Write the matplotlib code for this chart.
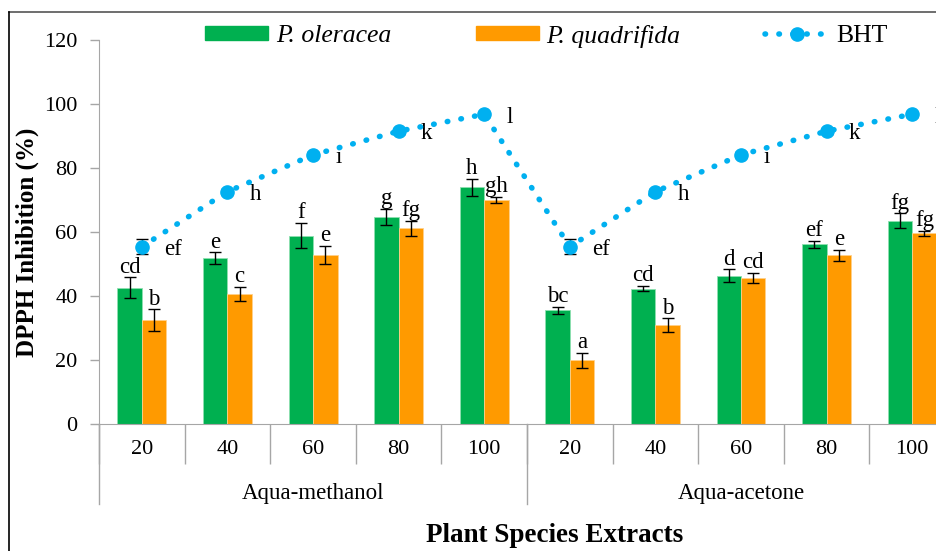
"""DPPH inhibition of two Portulaca extracts vs. BHT, grouped bars + dotted line.

Output: out.png
"""

from __future__ import annotations

import matplotlib

matplotlib.use("Agg")
import matplotlib.pyplot as plt
import numpy as np
from matplotlib.lines import Line2D
from matplotlib.transforms import blended_transform_factory

# --------------------------------------------------------------------------
# data
# --------------------------------------------------------------------------
concentrations = ["20", "40", "60", "80", "100", "20", "40", "60", "80", "100"]
solvents = ["Aqua-methanol", "Aqua-acetone"]

oleracea = [42.6, 51.8, 58.9, 64.6, 74.0, 35.5, 42.3, 46.4, 56.1, 63.5]
oleracea_err = [3.2, 1.8, 3.8, 2.5, 2.6, 1.1, 0.8, 1.9, 1.1, 2.3]
oleracea_letters = ["cd", "e", "f", "g", "h", "bc", "cd", "d", "ef", "fg"]

quadrifida = [32.5, 40.6, 52.8, 61.2, 70.0, 19.9, 30.8, 45.6, 52.7, 59.6]
quadrifida_err = [3.3, 2.3, 2.9, 2.3, 0.9, 2.4, 2.2, 1.6, 1.7, 0.8]
quadrifida_letters = ["b", "c", "e", "fg", "gh", "a", "b", "cd", "e", "fg"]

bht = [55.4, 72.6, 84.1, 91.5, 96.8, 55.4, 72.6, 84.1, 91.5, 96.8]
bht_err = [2.4, 0.8, 0.8, 0.8, 0.8, 2.4, 0.8, 0.8, 0.8, 0.8]
bht_letters = ["ef", "h", "i", "k", "l", "ef", "h", "i", "k", "l"]

GREEN = "#00B050"
ORANGE = "#FF9A00"
BLUE = "#00B0F0"
GRAY = "#A6A6A6"
SERIF = "Liberation Serif"


def main() -> None:
    plt.rcParams["font.family"] = SERIF
    fig = plt.figure(figsize=(9.36, 5.51), dpi=100)
    # plot area runs a bit past the right edge, like the cropped original
    ax = fig.add_axes([0.1058, 0.2305, 0.9145, 0.6969])

    n = len(concentrations)
    centers = np.arange(n) + 0.5
    w = 0.286

    ax.bar(centers - w / 2, oleracea, w, color=GREEN, edgecolor="#8ee0b0",
           linewidth=0.6, yerr=oleracea_err, capsize=4.5,
           error_kw=dict(elinewidth=1, capthick=1, ecolor="black"), zorder=2)
    ax.bar(centers + w / 2, quadrifida, w, color=ORANGE, edgecolor="#ffd08a",
           linewidth=0.6, yerr=quadrifida_err, capsize=4.5,
           error_kw=dict(elinewidth=1, capthick=1, ecolor="black"), zorder=2)

    ax.errorbar(centers, bht, yerr=bht_err, fmt="none", ecolor="black",
                elinewidth=1, capsize=4.5, zorder=3)
    ax.plot(centers, bht, color=BLUE, linewidth=4, linestyle=(0, (0.1, 2.4)),
            dash_capstyle="round", marker="o", markersize=9.5, zorder=4)

    # significance letters
    for x, v, e, t in zip(centers - w / 2, oleracea, oleracea_err, oleracea_letters):
        ax.annotate(t, (x, v + e), xytext=(0, 3.5), textcoords="offset points",
                    ha="center", va="baseline", fontsize=16.5, zorder=5)
    for x, v, e, t in zip(centers + w / 2, quadrifida, quadrifida_err, quadrifida_letters):
        ax.annotate(t, (x, v + e), xytext=(0, 3.5), textcoords="offset points",
                    ha="center", va="baseline", fontsize=16.5, zorder=5)
    for x, v, t in zip(centers, bht, bht_letters):
        ax.annotate(t, (x, v), xytext=(16, -2), textcoords="offset points",
                    ha="left", va="center", fontsize=16.5, annotation_clip=False)

    # axes cosmetics
    ax.set_xlim(0, n)
    ax.set_ylim(0, 120)
    ax.set_yticks(np.arange(0, 121, 20))
    ax.tick_params(axis="y", direction="out", length=6.5, width=1, color=GRAY,
                   pad=9, labelsize=16)
    for side in ("top", "right"):
        ax.spines[side].set_visible(False)
    ax.spines["left"].set_color(GRAY)
    ax.spines["bottom"].set_color(GRAY)

    # category ticks (separators) + labels between them
    ax.set_xticks(np.arange(n + 1))
    ax.set_xticklabels([])
    ax.tick_params(axis="x", which="major", direction="out", length=29,
                   width=1, color=GRAY)
    ax.set_xticks(centers, concentrations, minor=True)
    ax.tick_params(axis="x", which="minor", length=0, pad=11.5, labelsize=16)

    # second level: solvent groups
    trans = blended_transform_factory(ax.transData, ax.transAxes)
    for xs in (0, n // 2, n):
        ax.plot([xs, xs], [0, -0.208], transform=trans, color=GRAY,
                linewidth=1, clip_on=False)
    for i, name in enumerate(solvents):
        ax.text(n / 4 + i * n / 2, -0.18, name, transform=trans,
                ha="center", va="center", fontsize=16.5)

    fig.text(555 / 936, 1 - 535 / 551, "Plant Species Extracts", ha="center",
             va="center", fontsize=19.5, fontweight="bold")
    fig.text(27.5 / 936, 1 - 242 / 551, "DPPH Inhibition (%)", ha="center",
             va="center", rotation=90, fontsize=18, fontweight="bold")

    # legend across the top
    handles = [
        plt.Rectangle((0, 0), 1, 1, color=GREEN),
        plt.Rectangle((0, 0), 1, 1, color=ORANGE),
        Line2D([], [], color=BLUE, linewidth=4, linestyle=(0, (0.1, 2.4)),
               dash_capstyle="round", marker="o", markersize=9.5),
    ]
    labels = ["P. oleracea", "P. quadrifida", "BHT"]
    leg = fig.legend(handles, labels, loc="center left",
                     bbox_to_anchor=(205 / 936, 1 - 36 / 551), ncol=3,
                     frameon=False, fontsize=18.5, handlelength=2.45,
                     handleheight=0.45, handletextpad=0.3, columnspacing=3.3,
                     borderaxespad=0, borderpad=0)
    for txt in leg.get_texts()[:2]:
        txt.set_fontstyle("italic")

    # chart frame (top and left edges visible in the crop)
    fig.add_artist(Line2D([9 / 936, 1], [1 - 12 / 551] * 2, color="#555555",
                          linewidth=1.2))
    fig.add_artist(Line2D([9 / 936] * 2, [0, 1 - 12 / 551], color="black",
                          linewidth=1.2))

    fig.savefig("out.png", dpi=100)


if __name__ == "__main__":
    main()
